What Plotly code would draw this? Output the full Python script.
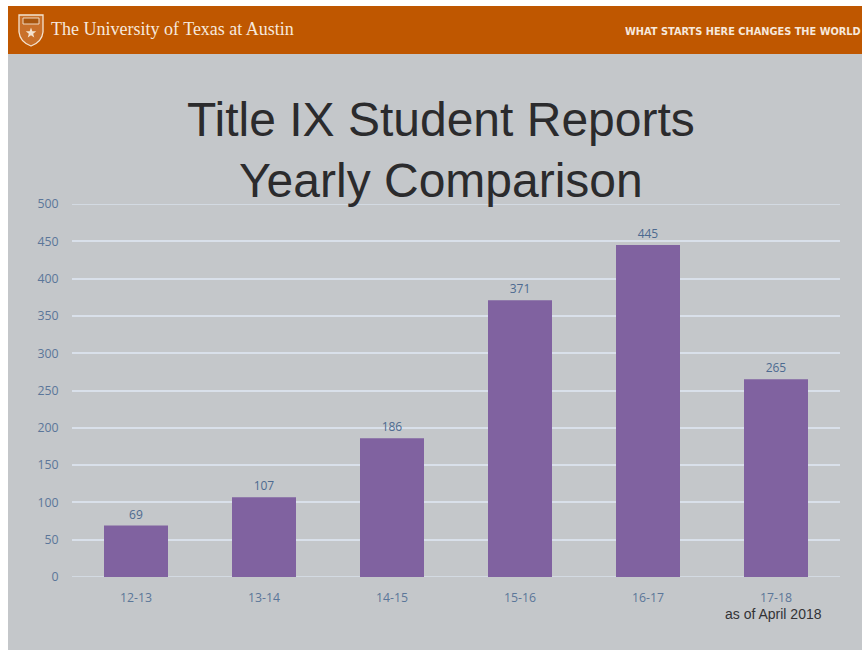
import math
import plotly.graph_objects as go

categories = ["12-13", "13-14", "14-15", "15-16", "16-17", "17-18"]
reports = [69, 107, 186, 371, 445, 265]
y_ticks = [0, 50, 100, 150, 200, 250, 300, 350, 400, 450, 500]

W, H = 862, 650
L, R, T, B = 72, 840, 204, 577
TICK = "#5b7699"
GRID = "#d9e0ea"
LIGHT = "#f4e3d0"


def px(x):
    return (x - L) / (R - L)


def py(y):
    return (B - y) / (B - T)


star_pts = []
for i in range(10):
    r = 5.5 if i % 2 == 0 else 2.3
    a = -math.pi / 2 + i * math.pi / 5
    star_pts.append((31 + r * math.cos(a), 33 + r * math.sin(a)))
star_path = "M " + " L ".join(f"{px(x)} {py(y)}" for x, y in star_pts) + " Z"

fig = go.Figure(go.Bar(
    x=categories, y=reports, width=0.5,
    marker=dict(color="#8062a0", line=dict(width=0)),
    text=reports, textposition="outside", cliponaxis=False,
    textfont=dict(family="Open Sans", size=12, color="#4d6a90"),
    hoverinfo="skip",
))

shapes = [
    dict(type="rect", xref="paper", yref="paper", layer="below",
         x0=px(8), x1=px(W), y0=py(H), y1=py(54), fillcolor="#c4c7ca", line_width=0),
    dict(type="rect", xref="paper", yref="paper", layer="below",
         x0=px(8), x1=px(W), y0=py(54), y1=py(6), fillcolor="#bf5700", line_width=0),
    # edge gridlines that Plotly leaves out at the ends of the range
    dict(type="line", xref="paper", yref="y", layer="below",
         x0=0, x1=1, y0=y_ticks[0], y1=y_ticks[0], line=dict(color=GRID, width=1.5)),
    dict(type="line", xref="paper", yref="y", layer="below",
         x0=0, x1=1, y0=y_ticks[-1], y1=y_ticks[-1], line=dict(color=GRID, width=1.5)),
    # shield emblem
    dict(type="path", xref="paper", yref="paper", layer="above",
         path=(f"M {px(19)} {py(15)} L {px(43)} {py(15)} L {px(43)} {py(32)} "
               f"Q {px(42)} {py(42)} {px(31)} {py(46)} "
               f"Q {px(20)} {py(42)} {px(19)} {py(32)} Z"),
         fillcolor="#c9702a", line=dict(color=LIGHT, width=1.3)),
    dict(type="rect", xref="paper", yref="paper", layer="above",
         x0=px(23), x1=px(39), y0=py(24), y1=py(18),
         fillcolor="#a9560f", line=dict(color=LIGHT, width=0.9)),
    dict(type="path", xref="paper", yref="paper", layer="above",
         path=star_path, fillcolor=LIGHT, line_width=0),
]

annotations = [
    dict(text="Title IX Student Reports", x=px(441), y=py(119), xref="paper", yref="paper",
         showarrow=False, xanchor="center", yanchor="middle",
         font=dict(family="Liberation Sans", size=48, color="#2b2b2d")),
    dict(text="Yearly Comparison", x=px(441), y=py(180), xref="paper", yref="paper",
         showarrow=False, xanchor="center", yanchor="middle",
         font=dict(family="Liberation Sans", size=48, color="#2b2b2d")),
    dict(text="The University of Texas at Austin", x=px(49), y=py(29), xref="paper", yref="paper",
         showarrow=False, xanchor="left", yanchor="middle",
         font=dict(family="Liberation Serif", size=18, color="#f6e8dc")),
    dict(text="<b>WHAT STARTS HERE CHANGES THE WORLD</b>", x=px(863), y=py(32), xref="paper", yref="paper",
         showarrow=False, xanchor="right", yanchor="middle",
         font=dict(family="DejaVu Sans", size=9.8, color="#f6e8dc")),
    dict(text="as of April 2018", x=px(773), y=py(614), xref="paper", yref="paper",
         showarrow=False, xanchor="center", yanchor="middle",
         font=dict(family="Liberation Sans", size=14, color="#333336")),
]

fig.update_layout(
    width=W, height=H, autosize=False,
    margin=dict(l=L, r=W - R, t=T, b=H - B, pad=0),
    paper_bgcolor="white", plot_bgcolor="rgba(0,0,0,0)",
    showlegend=False, shapes=shapes, annotations=annotations,
    xaxis=dict(type="category", showgrid=False, zeroline=False,
               showline=False, ticks="outside", ticklen=9, tickcolor="rgba(0,0,0,0)",
               tickfont=dict(family="Open Sans", size=12.3, color=TICK)),
    yaxis=dict(range=[0, 500], tickvals=y_ticks, showgrid=True,
               gridcolor=GRID, gridwidth=1.5, zeroline=False, showline=False,
               ticks="outside", ticklen=10, tickcolor="rgba(0,0,0,0)",
               tickfont=dict(family="Open Sans", size=12.3, color=TICK)),
)

fig.write_html("out.html", config={"displayModeBar": False},
               post_script="document.body.style.margin='0';")
